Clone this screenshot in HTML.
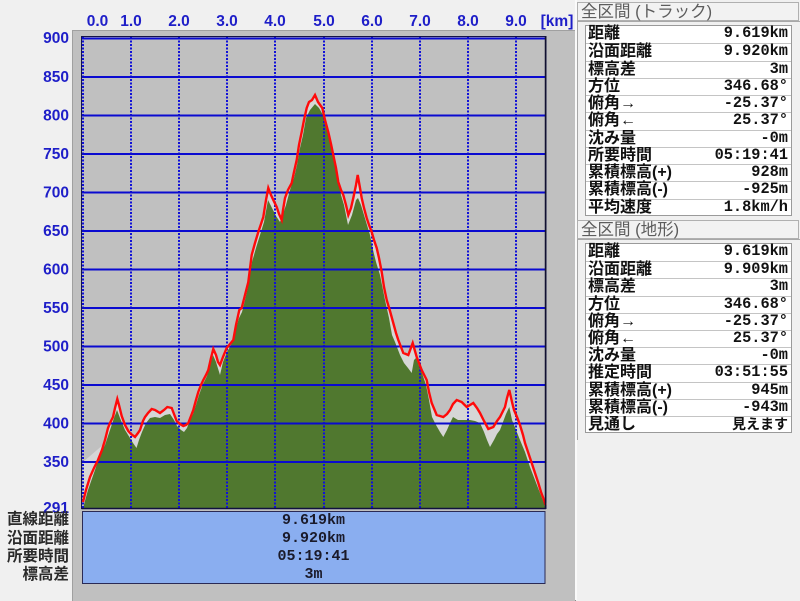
<!DOCTYPE html>
<html>
<head>
<meta charset="utf-8">
<style>
  html,body{margin:0;padding:0;}
  body{width:800px;height:600px;position:relative;overflow:hidden;background:#f0f0f0;
       font-family:"Liberation Sans","Noto Sans CJK JP",sans-serif;}
  .abs{position:absolute;}
  .panel{position:absolute;left:72px;top:30px;width:502px;height:570px;background:#c0c0c0;
         border-left:1px solid #a0a0a0;border-top:1px solid #a0a0a0;border-right:1px solid #8a8a8a;}
  .rframe{position:absolute;left:577px;width:223px;border-left:1px solid #a8a8a8;border-top:1px solid #a8a8a8;}
  .hdr{position:absolute;left:577px;width:222px;height:19px;border:1px solid #b0b0b0;background:#f2f2f2;
       color:#5c5c5c;font-size:16.5px;line-height:19px;padding-left:3px;box-sizing:border-box;
       font-family:"Liberation Sans","Noto Sans CJK JP",sans-serif;white-space:nowrap;}
  .tbl{position:absolute;left:585px;width:207px;background:#fff;border:1px solid #9a9a9a;box-sizing:border-box;}
  .row{position:absolute;left:0;width:205px;height:17px;border-top:1px solid #c4c4c4;box-sizing:border-box;}
  .row.first{border-top:none;}
  .lab{position:absolute;left:2px;top:-1px;font-size:16px;line-height:17px;font-weight:bold;color:#111;
       font-family:"Liberation Sans","Noto Sans CJK JP",sans-serif;white-space:nowrap;}
  .val{position:absolute;right:3px;top:-1px;font-size:15.3px;line-height:17px;font-weight:bold;color:#111;
       font-family:"Liberation Mono","Noto Sans CJK JP",monospace;white-space:nowrap;}
  .bl{position:absolute;right:731px;font-size:15.5px;line-height:18px;height:18px;font-weight:bold;color:#2a2a2a;
      font-family:"Liberation Sans","Noto Sans CJK JP",sans-serif;white-space:nowrap;text-align:right;}
  .iv{position:absolute;left:82px;width:463px;text-align:center;font-size:15px;line-height:18px;height:18px;
      font-weight:bold;color:#1a1a2a;font-family:"Liberation Mono",monospace;}
</style>
</head>
<body>

<div class="panel"></div>

<svg class="abs" style="left:0;top:0" width="800" height="600" viewBox="0 0 800 600">
  <rect x="81.5" y="36.5" width="464.5" height="472" fill="#c0c0c0" stroke="#14144a" stroke-width="1"/>
  <polygon fill="#d6d6d6" points="83,504 83,462 104,444 102,450 98,460 94,468 90,477 86,490"/>
  <polygon fill="#d6d6d6" points="83,508 83,502 86,490 90,477 94,468 98,460 102,450 105,440 108,428 110,423 113,417 115,408 117.3,399 119,405 121.7,416 125,425 128.3,431 131,434 135,437 138,433 140,430 143,421 145,417 148,413 151.7,409 155,410 160,413 164,410 167.3,407 171.7,408 174,414 176.7,421 180,424 183.3,426 186,425 188.3,423 191,416 193.3,410 196,400 198.3,392 201,385 203.3,380 206,375 208.3,370 211,358 213.3,349 216,355 218,362 220,365 223,357 226.7,348 230,344 233.3,340 236,325 239.3,310 241.7,308 245,295 248.3,282 251.7,255 255,243 258.3,232 261,224 263.3,217 266,200 268.3,188 271,195 273.3,200 276.7,207 279,214 281.7,220 283,210 285,198 288,190 291.7,183 294,172 296.7,160 299,145 301.7,132 304,120 306.7,108 309,102 312,100 315,95 318,102 322.3,108 325,120 328.3,132 331,144 333.3,155 336,168 338.3,182 341,190 343.3,195 346,205 348.3,215 351,208 353.3,198 356,185 357.7,175 360,188 361.7,198 364,208 366.7,218 369,225 371.7,232 374,240 376.7,248 379,258 381.7,272 384,287 386.7,300 390,311 393,322 396,333 398.3,340 403.3,353 408.3,355 412.7,343 416.7,357 421.7,370 426.7,380 429,392 431.7,403 436.7,415 443.3,417 447,414 450,410 453,404 456.7,400 461.7,402 466.7,407 470,405 473.3,403 477,408 480,413 484,421 488.3,429 493.3,427 497,421 500,417 503,411 505,407 507,398 509.3,390 512,402 514,410 517,417 520,425 523,435 525,443 528,452 531.7,463 535,473 538.3,483 541,492 544,500 545.5,505 545.5,508"/>
  <polygon fill="#50782f" points="83,508 88,490 95,470 100,455 105,445 110,430 114,418 117,410 120,418 125,430 130,438 133,443 136.5,448 139,440 142,432 146,423 150,418 155,417 160,418 165,415 170,414 174,420 177,426 181,430 184,432 187,428 190,420 193,414 196,405 199,395 203,384 207,376 210,365 213,355 216,362 220,375 223,362 227,352 231,345 235,332 239,318 242,312 245,300 248,287 252,262 256,248 260,235 264,222 268,200 272,208 276,216 280,222 283,214 286,205 290,190 294,178 297,165 300,148 303,135 306,118 310,110 315,104 319,108 323,115 326,125 329,138 332,152 335,165 338,180 341,195 344,205 348,225 352,215 356,200 358,198 361,205 364,215 367,225 370,235 373,250 376,262 380,275 385,300 389,318 392,335 395,342 400,355 404,363 408,368 411.7,373 414,360 416,358 419,366 422,373 426,385 429,400 432,417 436,425 440,432 443.3,437 447,430 450,423 453,417 458,420 463,420 470,420 475,421 480,423 484,432 487,440 490,447 494,440 497,434 500,430 503,422 506,414 509.3,407 512,420 516,430 520,440 525,452 530,467 535,480 540,493 544,503 545.5,508"/>
  <g stroke="#1010d8" stroke-width="2" stroke-dasharray="2 1.5">
    <line x1="83" y1="37" x2="83" y2="508"/>
    <line x1="131" y1="37" x2="131" y2="508"/>
    <line x1="179" y1="37" x2="179" y2="508"/>
    <line x1="227" y1="37" x2="227" y2="508"/>
    <line x1="275" y1="37" x2="275" y2="508"/>
    <line x1="324" y1="37" x2="324" y2="508"/>
    <line x1="372" y1="37" x2="372" y2="508"/>
    <line x1="420" y1="37" x2="420" y2="508"/>
    <line x1="468" y1="37" x2="468" y2="508"/>
    <line x1="516" y1="37" x2="516" y2="508"/>
  </g>
  <g stroke="#0a0ad0" stroke-width="2">
    <line x1="82" y1="38.5" x2="545.5" y2="38.5"/>
    <line x1="82" y1="77" x2="545.5" y2="77"/>
    <line x1="82" y1="115.5" x2="545.5" y2="115.5"/>
    <line x1="82" y1="154" x2="545.5" y2="154"/>
    <line x1="82" y1="192.5" x2="545.5" y2="192.5"/>
    <line x1="82" y1="231" x2="545.5" y2="231"/>
    <line x1="82" y1="269.5" x2="545.5" y2="269.5"/>
    <line x1="82" y1="308" x2="545.5" y2="308"/>
    <line x1="82" y1="346.5" x2="545.5" y2="346.5"/>
    <line x1="82" y1="385" x2="545.5" y2="385"/>
    <line x1="82" y1="423.5" x2="545.5" y2="423.5"/>
    <line x1="82" y1="462" x2="545.5" y2="462"/>
  </g>
  <polyline fill="none" stroke="#ff0a0a" stroke-width="2.4" stroke-linejoin="miter" points="83,502 86,490 90,477 94,468 98,460 102,450 105,440 108,428 110,423 113,417 115,408 117.3,399 119,405 121.7,416 125,425 128.3,431 131,434 135,437 138,433 140,430 143,421 145,417 148,413 151.7,409 155,410 160,413 164,410 167.3,407 171.7,408 174,414 176.7,421 180,424 183.3,426 186,425 188.3,423 191,416 193.3,410 196,400 198.3,392 201,385 203.3,380 206,375 208.3,370 211,358 213.3,349 216,355 218,362 220,365 223,357 226.7,348 230,344 233.3,340 236,325 239.3,310 241.7,308 245,295 248.3,282 251.7,255 255,243 258.3,232 261,224 263.3,217 266,200 268.3,188 271,195 273.3,200 276.7,207 279,214 281.7,220 283,210 285,198 288,190 291.7,183 294,172 296.7,160 299,145 301.7,132 304,120 306.7,108 309,102 312,100 315,95 318,102 322.3,108 325,120 328.3,132 331,144 333.3,155 336,168 338.3,182 341,190 343.3,195 346,205 348.3,215 351,208 353.3,198 356,185 357.7,175 360,188 361.7,198 364,208 366.7,218 369,225 371.7,232 374,240 376.7,248 379,258 381.7,272 384,287 386.7,300 390,311 393,322 396,333 398.3,340 403.3,353 408.3,355 412.7,343 416.7,357 421.7,370 426.7,380 429,392 431.7,403 436.7,415 443.3,417 447,414 450,410 453,404 456.7,400 461.7,402 466.7,407 470,405 473.3,403 477,408 480,413 484,421 488.3,429 493.3,427 497,421 500,417 503,411 505,407 507,398 509.3,390 512,402 514,410 517,417 520,425 523,435 525,443 528,452 531.7,463 535,473 538.3,483 541,492 544,500 545.5,505"/>
  <line x1="545.5" y1="36" x2="545.5" y2="509" stroke="#101030" stroke-width="1.5"/>
  <line x1="81.5" y1="508.5" x2="546" y2="508.5" stroke="#101040" stroke-width="1.5"/>

  <rect x="82.5" y="511.5" width="462.5" height="72" fill="#8aaef0" stroke="#2a2a55" stroke-width="1"/>

  <g font-family="Liberation Sans, sans-serif" font-weight="bold" font-size="15.5" fill="#1e1ec8" text-anchor="end">
    <text x="69" y="43">900</text>
    <text x="69" y="82">850</text>
    <text x="69" y="120.5">800</text>
    <text x="69" y="159">750</text>
    <text x="69" y="197.5">700</text>
    <text x="69" y="236">650</text>
    <text x="69" y="274.5">600</text>
    <text x="69" y="313">550</text>
    <text x="69" y="351.5">500</text>
    <text x="69" y="390">450</text>
    <text x="69" y="428.5">400</text>
    <text x="69" y="467">350</text>
    <text x="69" y="513">291</text>
  </g>
  <g font-family="Liberation Sans, sans-serif" font-weight="bold" font-size="15.5" fill="#1e1ec8" text-anchor="middle">
    <text x="97.5" y="26">0.0</text>
    <text x="131" y="26">1.0</text>
    <text x="179" y="26">2.0</text>
    <text x="227" y="26">3.0</text>
    <text x="275" y="26">4.0</text>
    <text x="324" y="26">5.0</text>
    <text x="372" y="26">6.0</text>
    <text x="420" y="26">7.0</text>
    <text x="468" y="26">8.0</text>
    <text x="516" y="26">9.0</text>
    <text x="557" y="26">[km]</text>
  </g>
</svg>

<div class="bl" style="top:511px;">直線距離</div>
<div class="bl" style="top:530px;">沿面距離</div>
<div class="bl" style="top:548px;">所要時間</div>
<div class="bl" style="top:566px;">標高差</div>

<div class="iv" style="top:512px;">9.619km</div>
<div class="iv" style="top:530px;">9.920km</div>
<div class="iv" style="top:548px;">05:19:41</div>
<div class="iv" style="top:566px;">3m</div>

<div class="abs" style="left:575px;top:0;width:2px;height:600px;background:#fafafa;"></div>

<div class="hdr" style="top:2px;">全区間 (トラック)</div>
<div class="rframe" style="top:21px;height:198px;"></div>
<div class="tbl" style="top:25px;height:191px;">
  <div class="row first" style="top:0px;"><span class="lab">距離</span><span class="val">9.619km</span></div>
  <div class="row" style="top:17.3px;"><span class="lab">沿面距離</span><span class="val">9.920km</span></div>
  <div class="row" style="top:34.5px;"><span class="lab">標高差</span><span class="val">3m</span></div>
  <div class="row" style="top:51.8px;"><span class="lab">方位</span><span class="val">346.68°</span></div>
  <div class="row" style="top:69.1px;"><span class="lab">俯角→</span><span class="val">-25.37°</span></div>
  <div class="row" style="top:86.4px;"><span class="lab">俯角←</span><span class="val">25.37°</span></div>
  <div class="row" style="top:103.6px;"><span class="lab">沈み量</span><span class="val">-0m</span></div>
  <div class="row" style="top:120.9px;"><span class="lab">所要時間</span><span class="val">05:19:41</span></div>
  <div class="row" style="top:138.2px;"><span class="lab">累積標高(+)</span><span class="val">928m</span></div>
  <div class="row" style="top:155.4px;"><span class="lab">累積標高(-)</span><span class="val">-925m</span></div>
  <div class="row" style="top:172.7px;"><span class="lab">平均速度</span><span class="val">1.8km/h</span></div>
</div>

<div class="hdr" style="top:220px;">全区間 (地形)</div>
<div class="rframe" style="top:239px;height:200px;"></div>
<div class="tbl" style="top:243px;height:190px;">
  <div class="row first" style="top:0px;"><span class="lab">距離</span><span class="val">9.619km</span></div>
  <div class="row" style="top:17.2px;"><span class="lab">沿面距離</span><span class="val">9.909km</span></div>
  <div class="row" style="top:34.4px;"><span class="lab">標高差</span><span class="val">3m</span></div>
  <div class="row" style="top:51.6px;"><span class="lab">方位</span><span class="val">346.68°</span></div>
  <div class="row" style="top:68.8px;"><span class="lab">俯角→</span><span class="val">-25.37°</span></div>
  <div class="row" style="top:86px;"><span class="lab">俯角←</span><span class="val">25.37°</span></div>
  <div class="row" style="top:103.2px;"><span class="lab">沈み量</span><span class="val">-0m</span></div>
  <div class="row" style="top:120.4px;"><span class="lab">推定時間</span><span class="val">03:51:55</span></div>
  <div class="row" style="top:137.6px;"><span class="lab">累積標高(+)</span><span class="val">945m</span></div>
  <div class="row" style="top:154.8px;"><span class="lab">累積標高(-)</span><span class="val">-943m</span></div>
  <div class="row" style="top:172px;"><span class="lab">見通し</span><span class="val" style="font-family:'Liberation Sans','Noto Sans CJK JP',sans-serif;font-size:14px;">見えます</span></div>
</div>

</body>
</html>
